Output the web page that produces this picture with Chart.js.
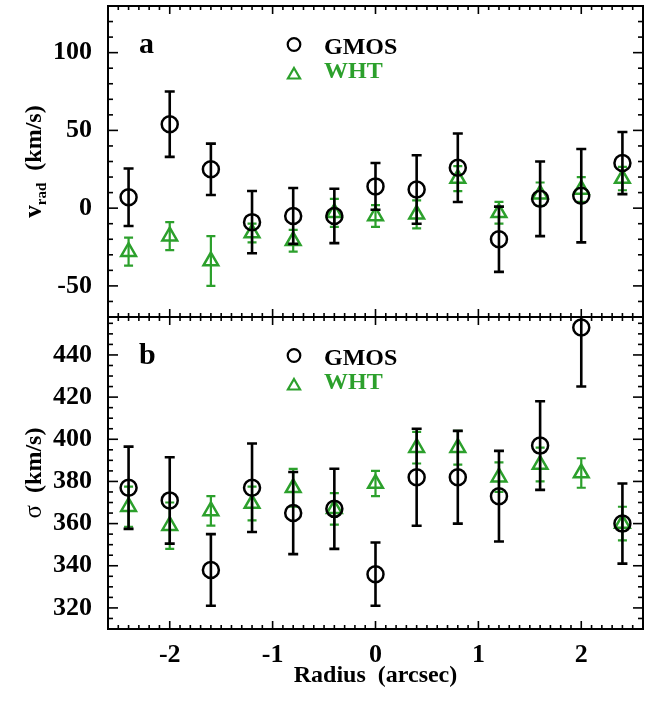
<!DOCTYPE html>
<html><head><meta charset="utf-8">
<script src="https://cdn.jsdelivr.net/npm/chart.js@4/dist/chart.umd.min.js"></script>
<style>
html,body{margin:0;padding:0;background:#fff;}
#wrap{position:relative;width:655px;height:704px;overflow:hidden;}
#c1{position:absolute;left:0;top:0;}
#c2{position:absolute;left:0;top:311px;}
</style></head><body>
<div id="wrap">
<canvas id="c1" width="655" height="320"></canvas>
<canvas id="c2" width="655" height="393"></canvas>
</div>
<script>
// ---- data ----
const radius = [-2.4, -2.0, -1.6, -1.2, -0.8, -0.4, 0.0, 0.4, 0.8, 1.2, 1.6, 2.0, 2.4];

const vradGmos    = [7, 54, 25, -9, -5, -5, 14, 12, 26, -20, 6, 8, 29];
const vradGmosErr = [18.5, 21, 16.5, 20, 18, 17.5, 15, 22, 22, 21, 24, 30, 20];
const vradWht     = [-28, -18, -34, -16, -21, -3, -5, -4, 19, -3, 9, 12, 19];
const vradWhtErr  = [9, 9, 16, 6, 7, 9, 7, 9, 8, 7, 7.5, 8, 7.5];

const sigmaGmos    = [377, 371, 338, 377, 365, 367, 336, 382, 382, 373, 397, 453, 360];
const sigmaGmosErr = [19.5, 20.5, 17, 21, 19.5, 19, 15, 23, 22, 21.5, 21, 28, 19];
const sigmaWht     = [368, 359, 366, 369.5, 377, 367, 379, 396, 396, 382, 388, 384, 360];
const sigmaWhtErr  = [9.5, 11, 7, 8, 9, 7.5, 6, 7.5, 8, 7, 8, 7, 8];

const xTicks = [-2, -1, 0, 1, 2];
const vradTicks = [-50, 0, 50, 100];
const sigmaTicks = [320, 340, 360, 380, 400, 420, 440];
const seriesNames = ['GMOS', 'WHT'];
const panelLetters = ['a', 'b'];

// ---- style ----
const FONT = "'Liberation Serif','Times New Roman',serif";
const GREEN = '#2ca02c';

const errorBarPlugin = {
  id: 'errbars',
  beforeDatasetDraw(chart, args) {
    const ds = chart.data.datasets[args.index];
    if (!ds.err) return;
    const {ctx, chartArea: a, scales: {x, y}} = chart;
    ctx.save();
    ctx.beginPath();
    ctx.rect(a.left, a.top, a.right - a.left, a.bottom - a.top);
    ctx.clip();
    ctx.strokeStyle = ds.borderColor;
    ctx.lineWidth = ds.errWidth;
    ds.data.forEach((p, i) => {
      const px = x.getPixelForValue(p.x);
      const y1 = y.getPixelForValue(p.y + ds.err[i]);
      const y2 = y.getPixelForValue(p.y - ds.err[i]);
      ctx.beginPath();
      ctx.moveTo(px, y1); ctx.lineTo(px, y2);
      ctx.moveTo(px - ds.capHalf, y1); ctx.lineTo(px + ds.capHalf, y1);
      ctx.moveTo(px - ds.capHalf, y2); ctx.lineTo(px + ds.capHalf, y2);
      ctx.stroke();
    });
    ctx.restore();
  }
};

const framePlugin = {
  id: 'frame',
  afterDatasetsDraw(chart, args, o) {
    const {ctx, chartArea: a, scales: {x, y}} = chart;
    ctx.save();
    ctx.strokeStyle = '#000';
    ctx.lineWidth = 1.6;
    const line = (x1, y1, x2, y2) => { ctx.beginPath(); ctx.moveTo(x1, y1); ctx.lineTo(x2, y2); ctx.stroke(); };
    for (let k = Math.ceil(x.min * 10); k <= Math.floor(x.max * 10); k++) {
      const major = (k % 10 === 0);
      const L = major ? 8 : 4;
      const px = x.getPixelForValue(k / 10);
      line(px, a.bottom, px, a.bottom - L);
      line(px, a.top, px, a.top + L);
    }
    const s = o.yMinorStep, M = o.yMajorStep;
    for (let v = Math.ceil(y.min / s) * s; v <= y.max; v += s) {
      const major = (Math.round(v) % M === 0);
      const L = major ? 10 : 5;
      const py = y.getPixelForValue(v);
      line(a.left, py, a.left + L, py);
      line(a.right, py, a.right - L, py);
    }
    ctx.lineWidth = 2;
    ctx.strokeRect(a.left, a.top, a.right - a.left, a.bottom - a.top);

    // panel letter
    ctx.fillStyle = '#000';
    ctx.font = 'bold 30px ' + FONT;
    ctx.textBaseline = 'alphabetic';
    ctx.textAlign = 'left';
    ctx.fillText(o.letter, a.left + 31, a.top + 47);

    // legend
    const ds = chart.data.datasets;
    const lx = 294;
    ctx.lineWidth = 2.2;
    ctx.strokeStyle = ds[0].borderColor;
    ctx.beginPath(); ctx.arc(lx, a.top + 38.5, 6.3, 0, Math.PI * 2); ctx.stroke();
    ctx.strokeStyle = ds[1].borderColor;
    const r = 7, cy = a.top + 69;
    ctx.beginPath();
    for (let j = 0; j < 3; j++) {
      const ang = j * 2 * Math.PI / 3;
      const xx = lx + Math.sin(ang) * r, yy = cy - Math.cos(ang) * r;
      if (j === 0) ctx.moveTo(xx, yy); else ctx.lineTo(xx, yy);
    }
    ctx.closePath(); ctx.stroke();
    ctx.font = 'bold 24px ' + FONT;
    ctx.fillStyle = ds[0].borderColor;
    ctx.fillText(ds[0].label, 324, a.top + 48);
    ctx.fillStyle = ds[1].borderColor;
    ctx.fillText(ds[1].label, 324, a.top + 72);

    // y title (rotated, with subscript)
    ctx.save();
    ctx.translate(41, (a.top + a.bottom) / 2);
    ctx.rotate(-Math.PI / 2);
    ctx.fillStyle = '#000';
    let total = 0;
    o.yTitle.forEach(p => { ctx.font = p.f + ' ' + FONT; total += ctx.measureText(p.t).width; });
    let cx = -total / 2;
    o.yTitle.forEach(p => {
      ctx.font = p.f + ' ' + FONT;
      ctx.fillText(p.t, cx, p.dy);
      cx += ctx.measureText(p.t).width;
    });
    ctx.restore();
    ctx.restore();
  }
};

function makeChart(id, cfg) {
  const datasets = [
    {
      label: seriesNames[0],
      data: radius.map((r, i) => ({x: r, y: cfg.gm[i]})),
      err: cfg.gmErr,
      pointStyle: 'circle', pointRadius: 8, pointHoverRadius: 8,
      borderColor: '#000', backgroundColor: 'rgba(0,0,0,0)', pointBorderWidth: 2.5,
      showLine: false, order: 0, errWidth: 2.6, capHalf: 5
    },
    {
      label: seriesNames[1],
      data: radius.map((r, i) => ({x: r, y: cfg.wh[i]})),
      err: cfg.whErr,
      pointStyle: 'triangle', pointRadius: 8.5, pointHoverRadius: 8.5,
      borderColor: GREEN, backgroundColor: 'rgba(0,0,0,0)', pointBorderWidth: 2.5,
      showLine: false, order: 1, errWidth: 2.2, capHalf: 4.5
    }
  ];
  return new Chart(document.getElementById(id), {
    type: 'scatter',
    data: {datasets},
    options: {
      responsive: false,
      animation: false,
      events: [],
      layout: {padding: cfg.pad, autoPadding: false},
      plugins: {
        legend: {display: false},
        tooltip: {enabled: false},
        frame: {letter: cfg.letter, yMinorStep: cfg.yMinorStep, yMajorStep: cfg.yMajorStep, yTitle: cfg.yTitle}
      },
      scales: {
        x: {
          type: 'linear', min: -2.6, max: 2.6,
          display: cfg.showX,
          afterBuildTicks: s => { s.ticks = xTicks.map(v => ({value: v})); },
          afterFit: s => { s.height = cfg.showX ? 75 : 0; s.paddingLeft = 0; s.paddingRight = 0; s.paddingTop = 0; s.paddingBottom = 0; },
          grid: {display: false},
          border: {display: false},
          ticks: {autoSkip: false, maxRotation: 0, color: '#000', padding: 3, font: {family: FONT, size: 26, weight: 'bold'}},
          title: {display: true, text: 'Radius  (arcsec)', color: '#000', padding: {top: 0, bottom: 14}, font: {family: FONT, size: 24, weight: 'bold'}}
        },
        y: {
          type: 'linear', min: cfg.yMin, max: cfg.yMax,
          afterBuildTicks: s => { s.ticks = cfg.yTicks.map(v => ({value: v})); },
          afterFit: s => { s.width = 108; s.paddingTop = 0; s.paddingBottom = 0; s.paddingLeft = 0; s.paddingRight = 0; },
          grid: {display: false},
          border: {display: false},
          ticks: {color: '#000', padding: 8, font: {family: FONT, size: 26, weight: 'bold'}}
        }
      }
    },
    plugins: [errorBarPlugin, framePlugin]
  });
}

makeChart('c1', {
  gm: vradGmos, gmErr: vradGmosErr, wh: vradWht, whErr: vradWhtErr,
  yMin: -70, yMax: 130, yTicks: vradTicks, yMinorStep: 10, yMajorStep: 50,
  letter: panelLetters[0], showX: false,
  pad: {top: 6, right: 12, bottom: 3, left: 0},
  yTitle: [{t: 'v', f: 'bold 25px', dy: 0}, {t: 'rad', f: 'bold 15px', dy: 5}, {t: '  (km/s)', f: 'bold 24px', dy: 0}]
});
makeChart('c2', {
  gm: sigmaGmos, gmErr: sigmaGmosErr, wh: sigmaWht, whErr: sigmaWhtErr,
  yMin: 310, yMax: 458, yTicks: sigmaTicks, yMinorStep: 5, yMajorStep: 20,
  letter: panelLetters[1], showX: true,
  pad: {top: 6, right: 12, bottom: 0, left: 0},
  yTitle: [{t: 'σ', f: '25px', dy: 0}, {t: '  (km/s)', f: 'bold 24px', dy: 0}]
});
</script>
</body></html>
